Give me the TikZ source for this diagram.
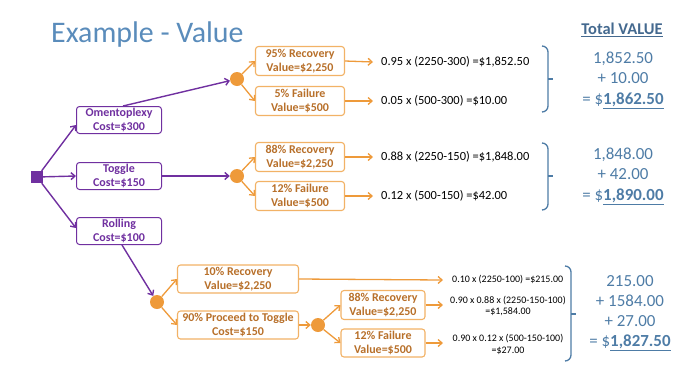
\documentclass[tikz,border=0pt]{standalone}
\usepackage{fontspec}
\setmainfont{Carlito}
\usetikzlibrary{arrows.meta}
\definecolor{purp}{HTML}{7030A0}
\definecolor{orng}{HTML}{EE9A3A}
\definecolor{orngtext}{HTML}{B8702A}
\definecolor{orngline}{HTML}{F2B266}
\definecolor{bluet}{HTML}{4E7CA6}
\definecolor{titleblue}{HTML}{5A8CBB}
\definecolor{totblue}{HTML}{44698F}
\tikzset{
  pbox/.style={draw=purp, rounded corners=3bp, line width=1bp, text=purp, font=\bfseries\fontsize{12}{13.5}\selectfont, align=center, minimum width=85bp, minimum height=27bp, inner sep=1bp, fill=white},
  obox/.style={draw=orngline, rounded corners=3bp, line width=1.1bp, text=orngtext, font=\bfseries\fontsize{12}{13.5}\selectfont, align=center, minimum width=89bp, minimum height=29bp, inner sep=1bp, fill=white},
  parr/.style={draw=purp, line width=1.4bp, -{Straight Barb[length=4bp,width=7bp]}},
  oarr/.style={draw=orng, line width=1.3bp, -{Straight Barb[length=4bp,width=7bp]}},
  chance/.style={circle, fill=orng, minimum size=14bp, inner sep=0},
  formula/.style={anchor=west, font=\fontsize{12.5}{13}\selectfont, inner sep=0},
  sformula/.style={align=center, font=\fontsize{10}{12}\selectfont, inner sep=0},
  total/.style={text=bluet, align=center, font=\fontsize{17}{20.5}\selectfont, inner sep=0},
  brace/.style={draw=bluet, line width=1.3bp}
}
\begin{document}
\begin{tikzpicture}[x=1bp,y=-1bp]
\useasboundingbox (0,0) rectangle (676,370);
\node[text=titleblue, font=\fontsize{30}{32}\selectfont, anchor=west, inner sep=0] (title) at (51,35) {Example - Value};
\node[text=totblue, font=\bfseries\fontsize{16.5}{18}\selectfont, inner sep=0] (tv) at (622,30) {\underline{Total VALUE}};

% decision node
\node[fill=purp, minimum size=12bp, inner sep=0] (dec) at (37,177) {};
\node[pbox] (om) at (119,120) {Omentoplexy\\Cost=\$300};
\node[pbox] (tg) at (119,176) {Toggle\\Cost=\$150};
\node[pbox] (rl) at (119,231) {Rolling\\Cost=\$100};
\draw[parr] (dec) -- (om.south west |- 0,125);
\draw[parr] (dec) -- (tg.west);
\draw[parr] (dec) -- (rl.west |- 0,228);

% group 1
\node[chance] (c1) at (237,79) {};
\node[obox] (r1) at (300,61) {95\% Recovery\\Value=\$2,250};
\node[obox] (f1) at (300,101) {5\% Failure\\Value=\$500};
\draw[parr] (om.north) ++(4,0) coordinate (omt) -- (c1);
\draw[oarr] (c1) -- (r1.west);
\draw[oarr] (c1) -- (f1.west);
\node[formula] (e1) at (381,62) {0.95 x (2250-300) =\$1,852.50};
\node[formula] (e2) at (381,101) {0.05 x (500-300) =\$10.00};
\draw[oarr] (r1.east) -- ([xshift=-8bp]e1.west);
\draw[oarr] (f1.east) -- ([xshift=-8bp]e2.west);
\draw[brace] (542,46) to[out=0,in=90] (548,52) -- (548,106) to[out=-90,in=0] (542,112);
\draw[brace] (548,79) -- (553,79);
\node[total] (t1) at (623,80) {1,852.50\\+ 10.00\\= \$\underline{\textbf{1,862.50}}};

% group 2
\node[chance] (c2) at (237,176) {};
\node[obox] (r2) at (300,157) {88\% Recovery\\Value=\$2,250};
\node[obox] (f2) at (300,196) {12\% Failure\\Value=\$500};
\draw[parr] (tg.east) -- (c2);
\draw[oarr] (c2) -- (r2.west);
\draw[oarr] (c2) -- (f2.west);
\node[formula] (e3) at (381,157) {0.88 x (2250-150) =\$1,848.00};
\node[formula] (e4) at (381,196) {0.12 x (500-150) =\$42.00};
\draw[oarr] (r2.east) -- ([xshift=-8bp]e3.west);
\draw[oarr] (f2.east) -- ([xshift=-8bp]e4.west);
\draw[brace] (542,143) to[out=0,in=90] (548,149) -- (548,204) to[out=-90,in=0] (542,210);
\draw[brace] (548,176) -- (553,176);
\node[total] (t2) at (623,176) {1,848.00\\+ 42.00\\= \$\underline{\textbf{1,890.00}}};

% group 3
\node[chance] (c3) at (157,302) {};
\node[obox, minimum width=121bp, minimum height=28bp] (r3) at (238,279) {10\% Recovery\\Value=\$2,250};
\node[obox, minimum width=121bp, minimum height=28bp] (p3) at (238,325) {90\% Proceed to Toggle\\Cost=\$150};
\draw[parr] (rl.south) ++(3,0) coordinate (rlb) -- (c3);
\draw[oarr] (c3) -- (r3.west);
\draw[oarr] (c3) -- (p3.west);
\node[chance] (c4) at (318,325) {};
\draw[oarr] (p3.east) -- (c4);
\node[obox, minimum width=84bp, minimum height=29bp] (r4) at (383,305) {88\% Recovery\\Value=\$2,250};
\node[obox, minimum width=84bp, minimum height=28bp] (f4) at (383,343) {12\% Failure\\Value=\$500};
\draw[oarr] (c4) -- (r4.west);
\draw[oarr] (c4) -- (f4.west);
\node[sformula, anchor=west] (e5) at (452,280) {0.10 x (2250-100) =\$215.00};
\node[sformula] (e6) at (508,306) {0.90 x 0.88 x (2250-150-100)\\=\$1,584.00};
\node[sformula] (e7) at (508,344) {0.90 x 0.12 x (500-150-100)\\=\$27.00};
\draw[oarr] (r3.east) -- ([xshift=-9bp]e5.west);
\draw[oarr] (r4.east) -- (443,305);
\draw[oarr] (f4.east) -- (443,343);
\draw[brace] (565,266) to[out=0,in=90] (571,272) -- (571,355) to[out=-90,in=0] (565,361);
\draw[brace] (571,314) -- (576,314);
\node[total, font=\fontsize{17}{20}\selectfont] (t3) at (630,313) {215.00\\+ 1584.00\\+ 27.00\\= \$\underline{\textbf{1,827.50}}};
\end{tikzpicture}
\end{document}
